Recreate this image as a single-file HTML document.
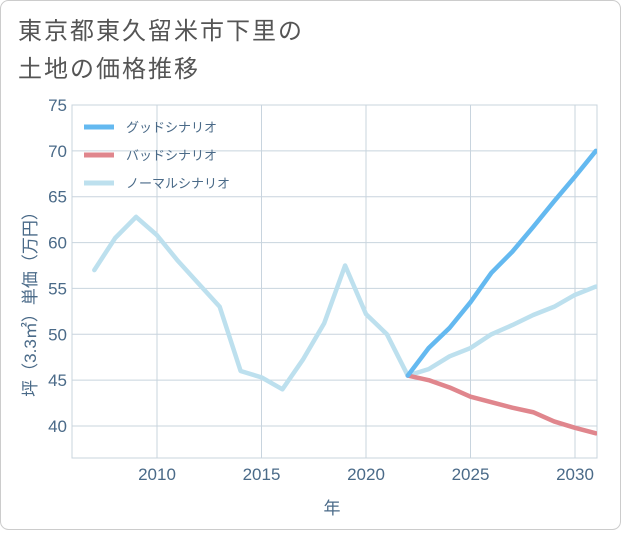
<!DOCTYPE html>
<html><head><meta charset="utf-8"><style>
body{margin:0;background:#fff;font-family:"Liberation Sans","Noto Sans CJK JP",sans-serif;}
#wrap{position:relative;width:621px;height:530px;}
svg text{font-family:"Liberation Sans","Noto Sans CJK JP",sans-serif;}
</style></head><body>
<div id="wrap">
<svg id="chart" width="621" height="530">
<rect x="0.5" y="0.5" width="620" height="529" rx="8" fill="#fff" stroke="#ccc"/>
<text x="18" y="39" font-size="24" letter-spacing="2" fill="#555">東京都東久留米市下里の</text>
<text x="18" y="77" font-size="24" letter-spacing="2" fill="#555">土地の価格推移</text>
<g id="grid"></g>
<g id="series"></g>
<g id="legend"></g>
<text x="332" y="514" font-size="17" fill="#4a6a88" text-anchor="middle">年</text>
<text transform="translate(36,300) rotate(-90)" font-size="17" fill="#4a6a88" text-anchor="middle">坪（3.3㎡）単価（万円）</text>
</svg>
</div>
<script>
const years=[2007,2008,2009,2010,2011,2012,2013,2014,2015,2016,2017,2018,2019,2020,2021,2022,2023,2024,2025,2026,2027,2028,2029,2030,2031];
const normal=[57,60.5,62.8,60.8,58,55.5,53,46,45.3,44,47.3,51.2,57.5,52.2,50,45.5,46.2,47.6,48.5,50,51,52.1,53,54.3,55.2];
const futureYears=[2022,2023,2024,2025,2026,2027,2028,2029,2030,2031];
const good=[45.5,48.5,50.7,53.5,56.7,59,61.7,64.5,67.2,70];
const bad=[45.5,45,44.2,43.2,42.6,42,41.5,40.5,39.8,39.2];
const yTicks=[40,45,50,55,60,65,70,75];
const xTicks=[2010,2015,2020,2025,2030];
const L=72,R=597,T=105,B=458;
const x=v=>157+(v-2010)*(575-157)/20;
const y=v=>426-(v-40)*(426-105)/35;
const NS="http://www.w3.org/2000/svg";
function mk(t,a,p){const e=document.createElementNS(NS,t);for(const k in a)e.setAttribute(k,a[k]);p.appendChild(e);return e;}
const g=document.getElementById('grid');
const bg=mk('rect',{x:L,y:T,width:R-L,height:B-T,fill:'#fff',stroke:'#c8d4de'},g);


yTicks.forEach(v=>{
 const l=mk('line',{x1:L,x2:R,y1:y(v),y2:y(v),stroke:'#c8d4de'},g);
 
 
 const t=mk('text',{x:L-5,y:y(v)+6,'font-size':17,fill:'#4a6a88','text-anchor':'end'},g);t.textContent=v;
 
 
});
xTicks.forEach(v=>{
 const l=mk('line',{x1:x(v),x2:x(v),y1:T,y2:B,stroke:'#c8d4de'},g);
 
 
 const t=mk('text',{x:x(v),y:B+22,'font-size':17,fill:'#4a6a88','text-anchor':'middle'},g);t.textContent=v;
 
 
});
const s=document.getElementById('series');
function line(xs,ys,c,name){
 const p=mk('polyline',{points:xs.map((v,i)=>x(v)+','+y(ys[i])).join(' '),fill:'none',stroke:c,'stroke-width':4.5,'stroke-linejoin':'round','stroke-linecap':'round'},s);
 
 
}
const clip=mk('clipPath',{id:'c'},s);mk('rect',{x:L,y:T,width:R-L,height:B-T},clip);
s.setAttribute('clip-path','url(#c)');
line(years,normal,'#bde0ee','normal-scenario-line');
line(futureYears,bad,'#e0868d','bad-scenario-line');
line(futureYears,good,'#64b9f0','good-scenario-line');
const lg=document.getElementById('legend');
[['グッドシナリオ','#64b9f0'],['バッドシナリオ','#e0868d'],['ノーマルシナリオ','#bde0ee']].forEach((d,i)=>{
 const yy=127+i*28;
 const l=mk('line',{x1:84,x2:114,y1:yy,y2:yy,stroke:d[1],'stroke-width':5},lg);
 
 
 const t=mk('text',{x:126,y:yy+5,'font-size':13,fill:'#4a6a88'},lg);t.textContent=d[0];
 
 
});
</script>
</body></html>
